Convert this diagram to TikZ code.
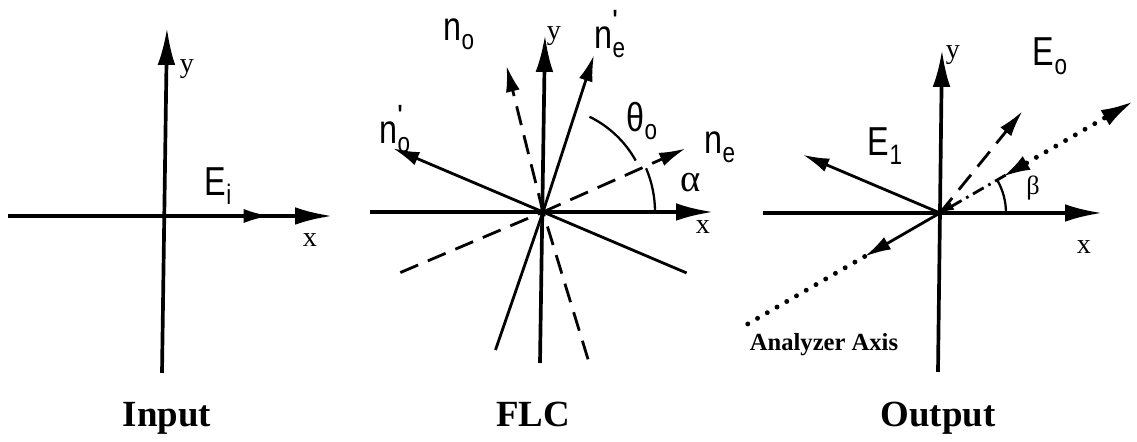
\documentclass[tikz,border=0pt]{standalone}
\usepackage{fontspec}
\setmainfont{Liberation Serif}
\newfontfamily\lblfont[FakeStretch=0.8]{Liberation Sans}
\usetikzlibrary{arrows.meta,calc}

% vector label: letter, subscript, prime
\newcommand{\vlab}[3]{{\lblfont\fontsize{23}{23}\selectfont #1\rlap{\raisebox{0.5em}{\fontsize{15}{15}\selectfont\bfseries #3}}\raisebox{-0.22em}{\fontsize{16}{16}\selectfont #2}}}

\begin{document}
\begin{tikzpicture}[x=0.02cm,y=0.02cm,>=Latex]
\tikzstyle{axis}=[line width=2.1pt,-{Latex[length=21pt,width=10pt]}]
\tikzstyle{vec}=[line width=1.6pt,-{Latex[length=15pt,width=8pt]}]
\tikzstyle{ray}=[line width=1.6pt]
\tikzstyle{dsh}=[dash pattern=on 11pt off 6pt]
\tikzstyle{dshdot}=[dash pattern=on 7pt off 3pt on 1.5pt off 3pt]
\tikzstyle{dots}=[line width=2.8pt,line cap=round,dash pattern=on 0pt off 6.4pt]
\tikzstyle{ax}=[inner sep=0pt,font=\fontsize{16}{16}\selectfont]
\tikzstyle{lab}=[inner sep=0pt]
\tikzstyle{title}=[anchor=base,inner sep=0pt,font=\bfseries\fontsize{21}{21}\selectfont]
\useasboundingbox (0,0) rectangle (1137,442);

% Input
\coordinate (i0) at (165,226);
\coordinate (ixl) at ($(i0)+(-157,0)$);
\coordinate (ixr) at ($(i0)+(167,0)$);
\coordinate (iyb) at ($(i0)+(-3,-157)$);
\coordinate (iyt) at ($(i0)+(2,188)$);
\coordinate (iE) at ($(i0)+(105,0)$);
\draw[axis] (ixl) -- (ixr);
\draw[axis] (iyb) -- (iyt);
\draw[vec] (i0) -- (iE);
\node[lab] (lEi) at ($(i0)+(53,30)$) {\vlab{E}{i}{}};
\node[ax] (liy) at ($(i0)+(22,147)$) {y};
\node[ax] (lix) at ($(i0)+(145,-24)$) {x};
\node[title] (tin) at (167,15) {Input};

% FLC
\coordinate (f0) at (543,230);
\coordinate (fxl) at ($(f0)+(-173,0)$);
\coordinate (fxr) at ($(f0)+(170,0)$);
\coordinate (fyb) at ($(f0)+(-3,-151)$);
\coordinate (fyt) at ($(f0)+(2,177)$);
\coordinate (fnep) at ($(f0)+(72:165)$);
\coordinate (fnem) at ($(f0)+(251:146)$);
\coordinate (fnop) at ($(f0)+(157:163)$);
\coordinate (fnom) at ($(f0)+(-23:156)$);
\coordinate (fdop) at ($(f0)+(104:151)$);
\coordinate (fdom) at ($(f0)+(-73:154)$);
\coordinate (fdep) at ($(f0)+(24:156)$);
\coordinate (fdem) at ($(f0)+(203:155)$);
\draw[axis] (fxl) -- (fxr);
\draw[axis] (fyb) -- (fyt);
\draw[ray] (fnem) -- (f0);
\draw[vec] (f0) -- (fnep);
\draw[ray] (fnom) -- (f0);
\draw[vec] (f0) -- (fnop);
\draw[ray,dsh] (fdom) -- (f0);
\draw[vec,dsh] (f0) -- (fdop);
\draw[ray,dsh] (fdem) -- (f0);
\draw[vec,dsh] (f0) -- (fdep);
\draw[line width=1.3pt] ($(f0)+(0:112)$) arc[start angle=0,end angle=23,radius=112];
\draw[line width=1.3pt] ($(f0)+(29:106)$) arc[start angle=29,end angle=64,radius=106];
\node[lab] (lno) at ($(f0)+(-84,178)$) {\vlab{n}{o}{}};
\node[lab] (lnep) at ($(f0)+(67,178)$) {\vlab{n}{e}{'}};
\node[lab] (lnop) at ($(f0)+(-148,83)$) {\vlab{n}{o}{'}};
\node[lab] (lth) at ($(f0)+(99,91)$) {\vlab{θ}{o}{}};
\node[lab] (lne) at ($(f0)+(177,65)$) {\vlab{n}{e}{}};
\node[lab,font=\fontsize{22}{22}\selectfont] (lal) at ($(f0)+(148,29)$) {α};
\node[ax] (lfy) at ($(f0)+(11,176)$) {y};
\node[ax] (lfx) at ($(f0)+(160,-15)$) {x};
\node[title] (tflc) at (533,15) {FLC};

% Output
\coordinate (o0) at (940,229);
\coordinate (oxl) at ($(o0)+(-177,0)$);
\coordinate (oxr) at ($(o0)+(162,0)$);
\coordinate (oyb) at ($(o0)+(-2,-159)$);
\coordinate (oyt) at ($(o0)+(2,163)$);
\coordinate (oE1) at ($(o0)+(157:149)$);
\coordinate (oEo) at ($(o0)+(51:131)$);
\coordinate (oAm) at ($(o0)+(30:100)$);
\coordinate (oAt) at ($(o0)+(30:224)$);
\coordinate (oAb) at ($(o0)+(210:87)$);
\coordinate (oAe) at ($(o0)+(210:228)$);
\draw[axis] (oxl) -- (oxr);
\draw[axis] (oyb) -- (oyt);
\draw[vec] (o0) -- (oE1);
\draw[vec,dsh] (o0) -- (oEo);
\draw[ray,dshdot,{Latex[length=8pt,width=5pt]}-{Latex[reversed,length=15pt,width=9pt]}] (o0) -- (oAm);
\draw[dots,-{Latex[length=19pt,width=10pt]}] (oAm) -- (oAt);
\draw[vec] (o0) -- (oAb);
\draw[dots] (oAb) -- (oAe);
\draw[line width=1.3pt] ($(o0)+(0:66)$) arc[start angle=0,end angle=30,radius=66];
\node[lab] (lE1) at ($(o0)+(-55,67)$) {\vlab{E}{1}{}};
\node[lab] (lEo) at ($(o0)+(110,157)$) {\vlab{E}{o}{}};
\node[lab,font=\fontsize{15}{15}\selectfont] (lbe) at ($(o0)+(93,25)$) {β};
\node[ax] (loy) at ($(o0)+(13,158)$) {y};
\node[ax] (lox) at ($(o0)+(144,-34)$) {x};
\node[lab,font=\bfseries\fontsize{14}{14}\selectfont] (lan) at ($(o0)+(-116,-132)$) {Analyzer Axis};
\node[title] (tout) at (938,15) {Output};
\end{tikzpicture}
\end{document}
